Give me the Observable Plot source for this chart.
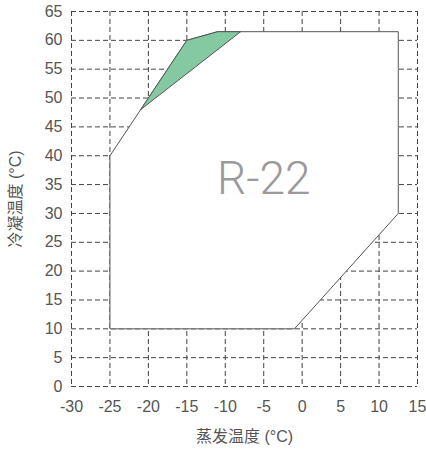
<!DOCTYPE html>
<html><head><meta charset="utf-8">
<script src="https://cdn.jsdelivr.net/npm/d3@7"></script>
<script src="https://cdn.jsdelivr.net/npm/@observablehq/plot@0.6"></script>
<style>body{margin:0;background:#fff}</style>
</head><body><div id="chart"></div>
<script>
const xTicks = [-30,-25,-20,-15,-10,-5,0,5,10,15];
const yTicks = [0,5,10,15,20,25,30,35,40,45,50,55,60,65];
const envelopeX = [-25,-15,-11,12.5,12.5,-1,-25,-25];
const envelopeY = [40,60,61.5,61.5,30,10,10,40];
const greenX = [-21,-15,-11,-8,-21];
const greenY = [48,60,61.5,61.5,48];
const label = {text:"R-22", x:-5, y:36};

const envelope = envelopeX.map((x,i)=>({x, y:envelopeY[i]}));
const green = greenX.map((x,i)=>({x, y:greenY[i]}));

const chart = Plot.plot({
  width: 426, height: 450,
  marginLeft: 71, marginRight: 9, marginTop: 11, marginBottom: 64,
  style: {fontSize:"16px", fontFamily:"'Helvetica Neue', 'Liberation Sans', 'Noto Sans CJK SC', sans-serif", color:"#555", background:"#fff"},
  x: {domain:[-30,15]},
  y: {domain:[0,65]},
  marks: [
    Plot.ruleX(xTicks, {stroke:"#444", strokeDasharray:"5,3", strokeOpacity:1}),
    Plot.ruleY(yTicks, {stroke:"#444", strokeDasharray:"5,3", strokeOpacity:1}),
    Plot.line(envelope, {x:"x", y:"y", fill:"white", stroke:"#555", strokeWidth:1, curve:"linear"}),
    Plot.line(green, {x:"x", y:"y", fill:"#85c9a2", stroke:"#555", strokeWidth:1}),
    Plot.text([label], {x:"x", y:"y", text:"text", fontSize:46, fontWeight:300, fill:"#9a9a9a", fontFamily:"Roboto, 'Helvetica Neue', sans-serif"}),
    Plot.axisX(xTicks, {tickSize:0, tickPadding:14, tickFormat:d=>String(d), label:"蒸发温度 (°C)", labelAnchor:"center", labelOffset:55, labelArrow:"none", fontSize:16}),
    Plot.axisY(yTicks, {tickSize:0, tickPadding:9, tickFormat:d=>String(d), label:"冷凝温度 (°C)", labelAnchor:"center", labelOffset:62, labelArrow:"none", fontSize:16})
  ]
});
document.getElementById("chart").append(chart);
</script></body></html>
